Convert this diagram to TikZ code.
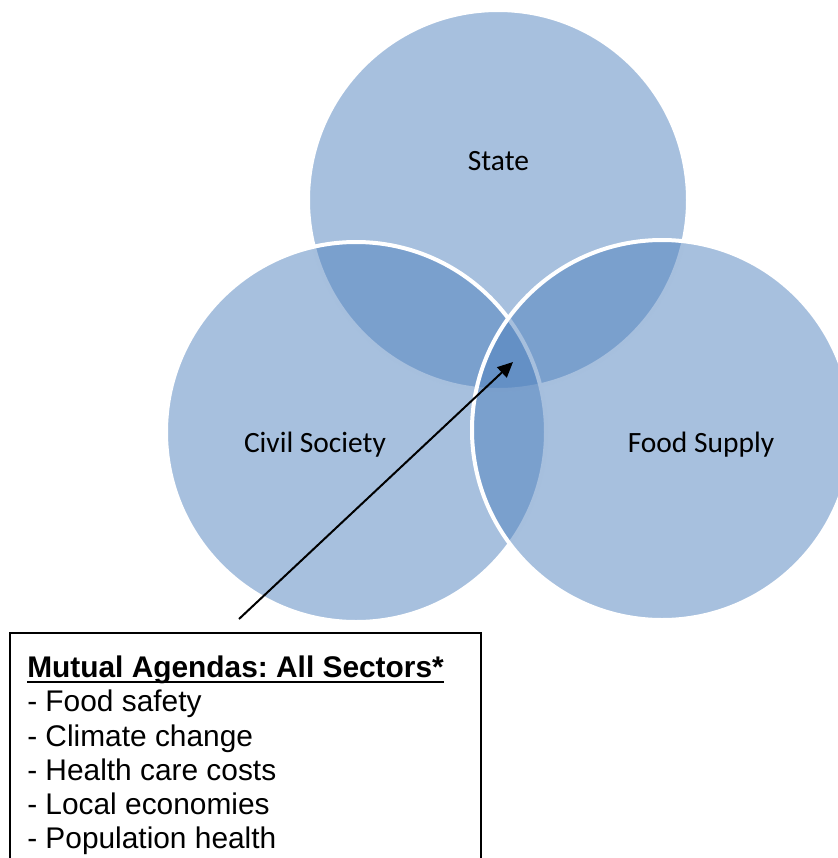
\documentclass[tikz,border=0pt]{standalone}
\usepackage{fontspec}
\setmainfont{Liberation Sans}
\newfontfamily\calib{Carlito}
\usetikzlibrary{arrows.meta}
\definecolor{accent}{HTML}{4F81BD}
\frenchspacing
\newcommand{\ulbox}[1]{\setbox0\hbox{#1}\rlap{\rule[-0.2em]{\wd0}{0.067em}}\box0}
\tikzset{
  venn/.style={circle, minimum size=285pt, inner sep=0pt, outer sep=0pt,
    fill=accent, fill opacity=0.5, draw=white, draw opacity=1, line width=3pt},
  vlabel/.style={anchor=base, inner sep=0pt, font=\calib\fontsize{22.1}{26}\selectfont},
  agendabox/.style={draw=black, line width=1.1pt, anchor=north west, inner sep=0pt, outer sep=0pt,
    minimum width=353.25pt, minimum height=200pt},
  agendatext/.style={anchor=north west, inner sep=0pt, align=left,
    font=\fontsize{22.4}{25.7}\selectfont},
  pointer/.style={draw=black, line width=1.5pt, -{Triangle[length=11.5pt,width=10.5pt]}}
}
\begin{document}
\begin{tikzpicture}[x=0.75pt,y=-0.75pt]
\useasboundingbox (0,0) rectangle (838,858);
\node[venn] (state) at (498,200) {};
\node[venn] (civil) at (356,432) {};
\node[venn] (food) at (662,430) {};
\node[vlabel] (statelbl) at (498.5,170) {State};
\node[vlabel] (civillbl) at (315,452) {Civil Society};
\node[vlabel] (foodlbl) at (701,452) {Food Supply};
\node[agendabox] (box) at (10,633) {};
\node[agendatext] (agenda) at (27,655.6) {\textbf{\ulbox{Mutual Agendas: All Sectors*}}\\
- Food safety\\
- Climate change\\
- Health care costs\\
- Local economies\\
- Population health};
\coordinate (tail) at (239,619);
\coordinate (tip) at (513,362);
\draw[pointer] (tail) -- (tip);
\end{tikzpicture}
\end{document}
